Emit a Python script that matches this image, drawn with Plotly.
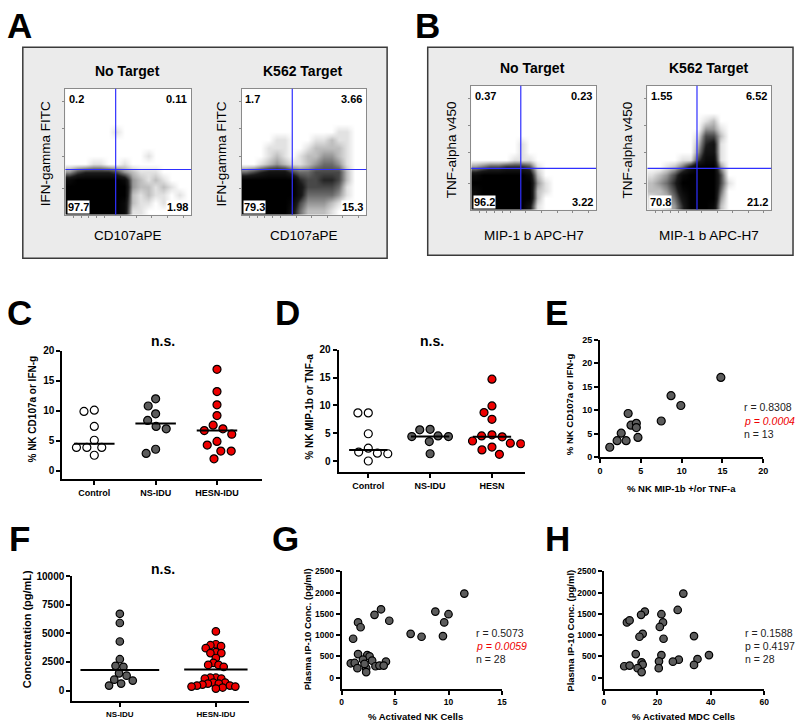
import numpy as np
import plotly.graph_objects as go

# ======================= DATA =======================
# --- Panels A/B: flow cytometry dot plots (density read from the dot clouds, 0-9, rows top->bottom)
flow_titles = ["No Target", "K562 Target", "No Target", "K562 Target"]
flow_xtitles = ["CD107aPE", "CD107aPE", "MIP-1 b APC-H7", "MIP-1 b APC-H7"]
flow_ytitles = ["IFN-gamma FITC", "IFN-gamma FITC", "TNF-alpha v450", "TNF-alpha v450"]
# quadrant percentages: upper-left, upper-right, lower-left, lower-right
flow_quadrants = [["0.2", "0.11", "97.7", "1.98"],
                  ["1.7", "3.66", "79.3", "15.3"],
                  ["0.37", "0.23", "96.2", "3.22"],
                  ["1.55", "6.52", "70.8", "21.2"]]
flow_gate_x = [6.4, 6.5, 6.35, 6.4]
flow_gate_y = [5.75, 5.75, 5.35, 5.35]

density_a_no_target = [
    "0000000000000000", "0000000000000000", "0000000000000000", "0000000000000000",
    "0000000000000000", "0000001000000000", "0000000000000000", "0000000000000000",
    "0000000000100000", "0001100100000000", "3566665321110000", "8999999832121000",
    "9999999932212100", "9999999921211010", "9999999821101000", "9999999811000000"]
density_a_k562 = [
    "0000000000000000", "0000000000000000", "0000000000000000", "0000000000000000",
    "0000000000000000", "0000000000001100", "0000110001121100", "0001110012222100",
    "0001210122332100", "0012321123443100", "4567775445555200", "9999999655665200",
    "9999999755554100", "9999999744443100", "9999998533321000", "8999997422210000"]
density_b_no_target = [
    "0000000000000000", "0000000000000000", "0000000000000000", "0000000000000000",
    "0000000000000000", "0000000000000000", "0000000000000000", "0000001000000000",
    "0000001000000000", "0000011100000000", "3455666510000000", "8999999820000000",
    "9999999931000000", "8999999921000000", "8999999920000000", "7999999710000000"]
density_b_k562 = [
    "0000000000000000", "0000000000000000", "0000000000000000", "0000000000000000",
    "0000000120000000", "0000000331000000", "0000001552000000", "0000002671000000",
    "0000003771000000", "0000115881000000", "0012479993000000", "1235899995000000",
    "2346999995100000", "2235899994000000", "1224799993000000", "1123699982000000"]

# --- Panel C
c_categories = ["Control", "NS-IDU", "HESN-IDU"]
c_control = [10.1, 9.9, 7.4, 5.1, 3.9, 3.9, 3.9, 2.6]
c_ns_idu = [12.0, 10.8, 9.5, 8.4, 7.4, 7.0, 3.6, 2.9]
c_hesn_idu = [16.9, 13.2, 11.0, 9.2, 7.6, 7.0, 6.7, 6.1, 4.9, 4.3, 3.3, 3.3, 2.0]
c_lines = [4.5, 7.9, 6.7]

# --- Panel D
d_categories = ["Control", "NS-IDU", "HESN"]
d_control = [8.65, 8.65, 4.9, 2.3, 1.6, 1.4, 1.3, 0.0]
d_ns_idu = [5.7, 5.6, 4.5, 4.4, 4.4, 3.5, 1.3]
d_hesn = [14.7, 9.9, 8.7, 7.5, 4.7, 4.5, 4.35, 3.6, 3.2, 3.1, 2.5, 2.0, 1.2]
d_lines = [2.0, 4.4, 4.35]

# --- Panel E
e_x = [1.2, 2.1, 2.6, 3.2, 3.45, 3.8, 4.45, 4.45, 4.65, 7.5, 8.7, 9.9, 14.8]
e_y = [2.1, 3.5, 5.1, 3.5, 9.3, 6.8, 7.2, 6.3, 4.2, 7.7, 13.1, 11.0, 17.0]
e_stats = ["r = 0.8308", "p = 0.0004", "n = 13"]

# --- Panel F
f_categories = ["NS-IDU", "HESN-IDU"]
f_ns_idu = [6715, 5910, 4290, 2740, 2160, 2075, 1500, 1300, 950, 865, 605, 430]
f_hesn_idu = [5170, 4050, 3965, 3880, 3705, 3360, 3275, 3275, 2845, 2415, 2240, 2240, 2070,
              1120, 1120, 1035, 1035, 690, 690, 605, 605, 515, 430, 430, 345, 345, 260, 170]
f_lines = [1790, 1830]

# --- Panel G
g_x = [11.48, 8.77, 10.0, 9.6, 9.48, 7.48, 6.46, 3.69, 3.08, 4.46, 1.54, 1.78, 1.08, 1.54,
       2.4, 2.62, 2.0, 0.86, 1.23, 2.86, 4.15, 1.48, 2.3, 2.3, 3.17, 3.54, 3.94, 2.15]
g_y = [1977, 1554, 1492, 1300, 977, 962, 1031, 1608, 1477, 1338, 1300, 1185, 915, 554,
       531, 500, 423, 338, 346, 400, 377, 223, 223, 131, 269, 285, 285, 323]
g_stats = ["r = 0.5073", "p = 0.0059", "n = 28"]

# --- Panel H
h_x = [29.7, 27.6, 15.3, 13.9, 21.5, 8.6, 9.6, 22.1, 20.9, 14.5, 13.3, 22.3, 33.7, 11.9,
       21.5, 39.3, 35.0, 28.0, 25.8, 20.6, 14.1, 14.5, 7.6, 9.6, 12.6, 14.1, 20.5, 33.7]
h_y = [1977, 1592, 1554, 1477, 1492, 1300, 1346, 1300, 1192, 1031, 962, 915, 977, 554,
       531, 531, 438, 423, 377, 385, 362, 308, 269, 285, 223, 131, 223, 300]
h_stats = ["r = 0.1588", "p = 0.4197", "n = 28"]

# ======================= LAYOUT / STYLE =======================
W, H = 800, 728
FONT = "Liberation Sans, Arial, sans-serif"
GRAY = "#5c5c5c"
RED = "#ee0000"

def px(x):
    return x / W

def py(y):
    return 1 - y / H

# plot areas in pixels: (left, right, top, bottom)
geo = {
    "A1": (63, 190, 84, 212), "A2": (241, 367, 84, 212),
    "B1": (473, 599, 81, 207), "B2": (651, 776, 81, 207),
    "C": (60, 262, 350, 480), "D": (339, 527, 349, 473), "E": (603, 768, 339, 458),
    "F": (70, 248, 579, 706), "G": (342, 504, 574, 693), "H": (607, 769, 574, 693),
}
ranges = {
    "A1": ([0, 16], [0, 16]), "A2": ([0, 16], [0, 16]),
    "B1": ([0, 16], [0, 16]), "B2": ([0, 16], [0, 16]),
    "C": ([-0.52, 2.74], [-1.31, 20]), "D": ([-0.48, 2.53], [-1.95, 20]),
    "E": ([0, 20], [0, 25]), "F": ([-0.495, 1.34], [-948, 10000]),
    "G": ([0, 15], [-255, 2500]), "H": ([0, 60], [-255, 2500]),
}
order = ["A1", "A2", "B1", "B2", "C", "D", "E", "F", "G", "H"]
axid = {k: i + 1 for i, k in enumerate(order)}

def xa(k):
    i = axid[k]
    return "x" if i == 1 else f"x{i}"

def ya(k):
    i = axid[k]
    return "y" if i == 1 else f"y{i}"

def ppu(k):
    l, r, t, b = geo[k]
    xr, yr = ranges[k]
    return (r - l) / (xr[1] - xr[0]), (b - t) / (yr[1] - yr[0])

fig = go.Figure()
layout = dict(width=W, height=H, margin=dict(l=0, r=0, t=0, b=0), autosize=False,
              paper_bgcolor="white", plot_bgcolor="white", showlegend=False,
              font=dict(family=FONT, color="black"))
shapes = []
annotations = []

def ann(x, y, text, size, bold=False, angle=0, xanchor="center", yanchor="middle",
        color="black", italic=False, bg=None):
    t = text
    if bold:
        t = f"<b>{t}</b>"
    if italic:
        t = f"<i>{t}</i>"
    d = dict(x=px(x), y=py(y), xref="paper", yref="paper", text=t, showarrow=False,
             textangle=angle, xanchor=xanchor, yanchor=yanchor,
             font=dict(family=FONT, size=size, color=color))
    if bg:
        d["bgcolor"] = bg
    annotations.append(d)

# axes
for k in order:
    l, r, t, b = geo[k]
    xr, yr = ranges[k]
    i = axid[k]
    xkey = "xaxis" if i == 1 else f"xaxis{i}"
    ykey = "yaxis" if i == 1 else f"yaxis{i}"
    xd = dict(domain=[px(l), px(r)], range=xr, anchor=ya(k), showgrid=False, zeroline=False,
              fixedrange=True)
    yd = dict(domain=[py(b), py(t)], range=yr, anchor=xa(k), showgrid=False, zeroline=False,
              fixedrange=True)
    if k[0] in "AB":
        common = dict(showline=True, mirror=True, linecolor="#8a8a8a", linewidth=1,
                      ticks="outside", ticklen=2, tickcolor="#8a8a8a", showticklabels=False)
        xd.update(common, tickvals=[1, 2, 3, 4, 5, 7, 9, 11, 13, 15])
        yd.update(common, tickvals=[3.4, 7.4, 10.9, 14.4])
    else:
        common = dict(showline=True, linecolor="black", linewidth=2, ticks="outside",
                      ticklen=4, tickwidth=1.5, tickcolor="black")
        xd.update(common)
        yd.update(common)
        tf = dict(family=FONT, size=10, color="black", weight="bold")
        if k == "C":
            xd.update(tickvals=[0, 1, 2], ticktext=c_categories, tickfont=dict(tf, size=9))
            yd.update(tickvals=[0, 5, 10, 15, 20], tickfont=tf)
        elif k == "D":
            xd.update(tickvals=[0, 1, 2], ticktext=d_categories, tickfont=dict(tf, size=9))
            yd.update(tickvals=[0, 5, 10, 15, 20], tickfont=tf)
        elif k == "E":
            xd.update(tickvals=[0, 5, 10, 15, 20], tickfont=dict(tf, size=9))
            yd.update(tickvals=[0, 5, 10, 15, 20, 25], tickfont=dict(tf, size=9))
        elif k == "F":
            xd.update(tickvals=[0, 1], ticktext=f_categories, tickfont=dict(tf, size=8))
            yd.update(tickvals=[0, 2500, 5000, 7500, 10000], tickformat="d", tickfont=tf)
        elif k == "G":
            xd.update(tickvals=[0, 5, 10, 15], tickfont=dict(tf, size=8.5))
            yd.update(tickvals=[0, 500, 1000, 1500, 2000, 2500], tickformat="d",
                      tickfont=dict(tf, size=8.5))
        elif k == "H":
            xd.update(tickvals=[0, 20, 40, 60], tickfont=dict(tf, size=8.5))
            yd.update(tickvals=[0, 500, 1000, 1500, 2000, 2500], tickformat="d",
                      tickfont=dict(tf, size=8.5))
    layout[xkey] = xd
    layout[ykey] = yd

# ---------- Panels A and B (flow cytometry) ----------
shapes.append(dict(type="rect", xref="paper", yref="paper", x0=px(20), x1=px(388),
                   y0=py(256), y1=py(42), fillcolor="#ebebeb",
                   line=dict(color="#3a3a3a", width=1.5), layer="below"))
shapes.append(dict(type="rect", xref="paper", yref="paper", x0=px(429), x1=px(798),
                   y0=py(253), y1=py(42), fillcolor="#ebebeb",
                   line=dict(color="#3a3a3a", width=1.5), layer="below"))

flow_keys = ["A1", "A2", "B1", "B2"]
flow_grids = [density_a_no_target, density_a_k562, density_b_no_target, density_b_k562]
flow_scale = [[0, "#ffffff"], [0.11, "#e2e2e2"], [0.25, "#b5b5b5"], [0.45, "#6a6a6a"],
              [0.7, "#1a1a1a"], [1, "#000000"]]
for j, k in enumerate(flow_keys):
    l, r, t, b = geo[k]
    shapes.append(dict(type="rect", xref="paper", yref="paper", x0=px(l), x1=px(r),
                       y0=py(b), y1=py(t), fillcolor="white", line=dict(width=0),
                       layer="below"))
    z = np.array([[int(c) for c in row] for row in flow_grids[j]][::-1], dtype=float)
    centers = np.arange(z.shape[1]) + 0.5
    fig.add_trace(go.Heatmap(z=z, x=centers, y=np.arange(z.shape[0]) + 0.5, zmin=0, zmax=9,
                             colorscale=flow_scale, showscale=False, zsmooth="best",
                             hoverinfo="skip", xaxis=xa(k), yaxis=ya(k)))
    # quadrant gates
    shapes.append(dict(type="line", xref=xa(k), yref=f"{ya(k)} domain",
                       x0=flow_gate_x[j], x1=flow_gate_x[j], y0=0, y1=1,
                       line=dict(color="#2f2fff", width=1.2)))
    shapes.append(dict(type="line", xref=f"{xa(k)} domain", yref=ya(k),
                       x0=0, x1=1, y0=flow_gate_y[j], y1=flow_gate_y[j],
                       line=dict(color="#2f2fff", width=1.2)))
    q = flow_quadrants[j]
    qfont = dict(family=FONT, size=11, color="black")
    annotations.append(dict(x=0.015, y=0.985, xref=f"{xa(k)} domain", yref=f"{ya(k)} domain",
                            text=f"<b>{q[0]}</b>", showarrow=False, xanchor="left",
                            yanchor="top", font=qfont))
    annotations.append(dict(x=0.985, y=0.985, xref=f"{xa(k)} domain", yref=f"{ya(k)} domain",
                            text=f"<b>{q[1]}</b>", showarrow=False, xanchor="right",
                            yanchor="top", font=qfont))
    annotations.append(dict(x=0.015, y=0.01, xref=f"{xa(k)} domain", yref=f"{ya(k)} domain",
                            text=f"<b>{q[2]}</b>", showarrow=False, xanchor="left",
                            yanchor="bottom", font=qfont, bgcolor="white", borderpad=0))
    annotations.append(dict(x=0.985, y=0.01, xref=f"{xa(k)} domain", yref=f"{ya(k)} domain",
                            text=f"<b>{q[3]}</b>", showarrow=False, xanchor="right",
                            yanchor="bottom", font=qfont, bgcolor="white", borderpad=0))
    # titles
    cx = (l + r) / 2
    ann(cx - 1, t - 18, flow_titles[j], 14, bold=True)
    ann(cx, 233, flow_xtitles[j], 13.5)
    ann(l - 20, (t + b) / 2 + 2, flow_ytitles[j], 13.5, angle=-90)

ann(17, 20, "A", 35, bold=True)
ann(429, 20, "B", 35, bold=True)


# ---------- beeswarm helper (offsets computed from the values) ----------
def swarm(values, k, diam):
    ux, uy = ppu(k)
    placed = []
    out = []
    for v in values:
        yv = v * uy
        cands = [0.0]
        for (xp, yp) in placed:
            dy = abs(yp - yv)
            if dy < diam:
                dx = np.sqrt(diam ** 2 - dy ** 2)
                cands += [xp - dx, xp + dx]
        cands.sort(key=lambda c: (abs(c), c))
        xs = 0.0
        for c in cands:
            if all((c - xp) ** 2 + (yv - yp) ** 2 >= diam ** 2 - 1e-6 for xp, yp in placed):
                xs = c
                break
        placed.append((xs, yv))
        out.append(xs / ux)
    return np.array(out)


def dot_group(k, pos, values, fill, size, diam, line_level, half):
    off = swarm(values, k, diam)
    fig.add_trace(go.Scatter(x=pos + off, y=values, mode="markers",
                             marker=dict(size=size, color=fill,
                                         line=dict(color="black", width=1.2)),
                             xaxis=xa(k), yaxis=ya(k), hoverinfo="skip"))
    fig.add_trace(go.Scatter(x=[pos - half, pos + half], y=[line_level, line_level],
                             mode="lines", line=dict(color="black", width=2),
                             xaxis=xa(k), yaxis=ya(k), hoverinfo="skip"))


# ---------- Panel C ----------
for i, (vals, col) in enumerate([(c_control, "white"), (c_ns_idu, GRAY), (c_hesn_idu, RED)]):
    dot_group("C", i, vals, col, 8, 10.5, c_lines[i], 0.33)
ann(17, 311, "C", 35, bold=True)
ann(162, 340, "n.s.", 14, bold=True)
ann(30, 409, "% NK CD107a or IFN-g", 10, bold=True, angle=-90)

# ---------- Panel D ----------
for i, (vals, col) in enumerate([(d_control, "white"), (d_ns_idu, GRAY), (d_hesn, RED)]):
    dot_group("D", i, vals, col, 8, 10.5, d_lines[i], 0.31)
ann(287, 311, "D", 35, bold=True)
ann(433, 340, "n.s.", 14, bold=True)
ann(310, 407, "% NK MIP-1b or TNF-a", 10, bold=True, angle=-90)

# ---------- Panel E ----------
fig.add_trace(go.Scatter(x=e_x, y=e_y, mode="markers",
                         marker=dict(size=8, color=GRAY, line=dict(color="black", width=1.2)),
                         xaxis=xa("E"), yaxis=ya("E"), hoverinfo="skip"))
ann(559, 311, "E", 35, bold=True)
ann(573, 404, "% NK CD107a or IFN-g", 9.5, bold=True, angle=-90)
ann(685, 490, "% NK MIP-1b +/or TNF-a", 9.5, bold=True)
ann(746, 407, e_stats[0], 10.5, xanchor="left", color="#222222")
ann(746, 421, e_stats[1], 10.5, xanchor="left", color=RED, italic=True)
ann(746, 435, e_stats[2], 10.5, xanchor="left", color="#222222")

# ---------- Panel F ----------
f_half = [0.41, 0.33]
f_diam = [8.0, 5.6]
for i, (vals, col) in enumerate([(f_ns_idu, GRAY), (f_hesn_idu, RED)]):
    dot_group("F", i, vals, col, 7.5, f_diam[i], f_lines[i], f_half[i])
ann(17, 541, "F", 35, bold=True)
ann(162, 572, "n.s.", 14, bold=True)
ann(25, 633, "Concentration (pg/mL)", 11, bold=True, angle=-90)

# ---------- Panel G ----------
fig.add_trace(go.Scatter(x=g_x, y=g_y, mode="markers",
                         marker=dict(size=7.5, color=GRAY, line=dict(color="black", width=1.2)),
                         xaxis=xa("G"), yaxis=ya("G"), hoverinfo="skip"))
ann(285, 541, "G", 35, bold=True)
ann(308, 633, "Plasma IP-10 Conc. (pg/ml)", 9.5, bold=True, angle=-90)
ann(417, 721, "% Activated NK Cells", 9.5, bold=True)
ann(476, 637, g_stats[0], 10.5, xanchor="left", color="#222222")
ann(476, 650, g_stats[1], 10.5, xanchor="left", color=RED, italic=True)
ann(476, 663, g_stats[2], 10.5, xanchor="left", color="#222222")

# ---------- Panel H ----------
fig.add_trace(go.Scatter(x=h_x, y=h_y, mode="markers",
                         marker=dict(size=7.5, color=GRAY, line=dict(color="black", width=1.2)),
                         xaxis=xa("H"), yaxis=ya("H"), hoverinfo="skip"))
ann(560, 541, "H", 35, bold=True)
ann(573, 634, "Plasma IP-10 Conc. (pg/ml)", 9.5, bold=True, angle=-90)
ann(687, 721, "% Activated MDC Cells", 9.5, bold=True)
ann(747, 637, h_stats[0], 10.5, xanchor="left", color="#222222")
ann(747, 650, h_stats[1], 10.5, xanchor="left", color="#222222")
ann(747, 663, h_stats[2], 10.5, xanchor="left", color="#222222")

layout["shapes"] = shapes
layout["annotations"] = annotations
fig.update_layout(**layout)
fig.write_html("out.html",
               config={"displayModeBar": False},
               post_script="document.body.style.margin='0px';"
                           "document.body.style.overflow='hidden';")
